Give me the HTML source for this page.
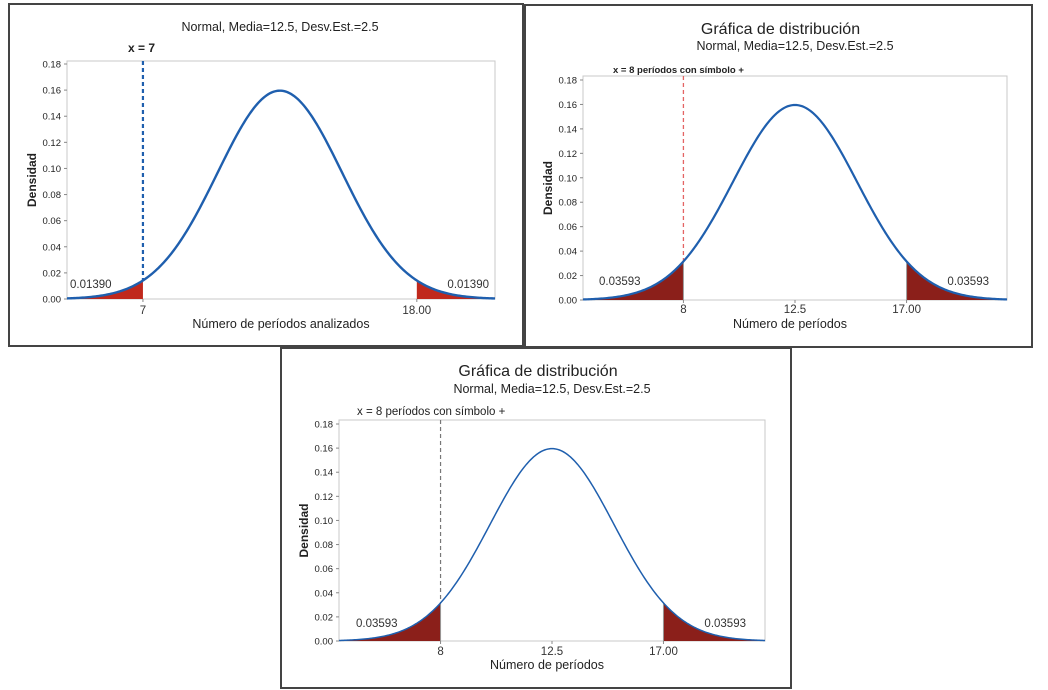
<!DOCTYPE html>
<html><head><meta charset="utf-8">
<style>
html,body{margin:0;padding:0;background:#fff;}
svg{display:block;font-family:"Liberation Sans","DejaVu Sans",sans-serif;}
</style></head>
<body>
<svg id="chart" width="1048" height="690" viewBox="0 0 1048 690" xmlns="http://www.w3.org/2000/svg"></svg>
<script>
// ---- data ----
const means = [12.5, 12.5, 12.5];
const stdDevs = [2.5, 2.5, 2.5];
const leftCuts = [7, 8, 8];
const rightCuts = [18, 17, 17];
const tailAreas = ["0.01390", "0.03593", "0.03593"];
const xTickValues = [[7, 18], [8, 12.5, 17], [8, 12.5, 17]];
const xTickLabels = [["7", "18.00"], ["8", "12.5", "17.00"], ["8", "12.5", "17.00"]];
const yTickValues = [0, 0.02, 0.04, 0.06, 0.08, 0.10, 0.12, 0.14, 0.16, 0.18];
const yTickLabels = ["0.00","0.02","0.04","0.06","0.08","0.10","0.12","0.14","0.16","0.18"];
const mainTitles = ["", "Gráfica de distribución", "Gráfica de distribución"];
const subTitles = ["Normal, Media=12.5, Desv.Est.=2.5","Normal, Media=12.5, Desv.Est.=2.5","Normal, Media=12.5, Desv.Est.=2.5"];
const refLabels = ["x = 7", "x = 8 períodos con símbolo +", "x = 8 períodos con símbolo +"];
const xTitles = ["Número de períodos analizados", "Número de períodos", "Número de períodos"];

// ---- layout (not data) ----
const panels = [
 {box:[9,4,514,342], l:67, r:495, t:61, b:299, y18:64, xmin:3.95, xmax:21.14,
  fill:"#c0281c", refColor:"#1f5fae", refW:2.2, refDash:"4,3", curveW:2.4,
  subY:31, subSize:12.5, refX:128, refY:52, refSize:12, refBold:true, labY:288, lx:70, rx:489, xtY:314, titleY:328},
 {box:[525,5,507,342], l:583, r:1007, t:76, b:300, y18:80, xmin:3.95, xmax:21.05,
  fill:"#8b1f1a", refColor:"#e46464", refW:1.3, refDash:"4,3", curveW:2.2,
  mainY:34, subY:50, subSize:12.5, refX:613, refY:73, refSize:9.5, refBold:true, labY:285, lx:599, rx:989, xtY:313, titleY:328},
 {box:[281,348,510,340], l:339, r:765, t:420, b:641, y18:424, xmin:3.9, xmax:21.1,
  fill:"#8b1f1a", refColor:"#777", refW:1.2, refDash:"4,3", curveW:1.5,
  mainY:376, subY:393, subSize:12.5, refX:357, refY:415, refSize:11.5, refBold:false, labY:627, lx:356, rx:746, xtY:655, titleY:669}
];

const svg = document.getElementById('chart');
const NS = "http://www.w3.org/2000/svg";
function mk(tag, attrs, parent){ const e=document.createElementNS(NS,tag); for(const k in attrs) e.setAttribute(k,attrs[k]); (parent||svg).appendChild(e); return e; }
function pdf(x,m,s){ return Math.exp(-0.5*((x-m)/s)**2)/(s*Math.sqrt(2*Math.PI)); }

panels.forEach((p,i)=>{
  const g = mk('g',{});
  
  
  const X = v => p.l + (v-p.xmin)/(p.xmax-p.xmin)*(p.r-p.l);
  const Y = v => p.b - v/0.18*(p.b-p.y18);
  const m=means[i], s=stdDevs[i];

  const frame = mk('rect',{x:p.box[0],y:p.box[1],width:p.box[2],height:p.box[3],fill:"#fff",stroke:"#444","stroke-width":2},g);
  
  

  const plot = mk('rect',{x:p.l,y:p.t,width:p.r-p.l,height:p.b-p.t,fill:"#fff",stroke:"#c8c8c8","stroke-width":1},g);
  
  

  if(mainTitles[i]){
    const mt = mk('text',{x:(p.box[0]+p.box[0]+p.box[2])/2+2,y:p.mainY,"text-anchor":"middle","font-size":16,fill:"#222"},g);
    mt.textContent = mainTitles[i];
    
    
  }
  const cx = i===0 ? 280 : (p.l+p.r)/2;
  const st = mk('text',{x:cx,y:p.subY,"text-anchor":"middle","font-size":p.subSize,fill:"#222"},g);
  st.textContent = subTitles[i];
  
  

  yTickValues.forEach((v,k)=>{
    const y=Y(v);
    const tk = mk('line',{x1:p.l-3,x2:p.l,y1:y,y2:y,stroke:"#888"},g);
    
    
    const t = mk('text',{x:p.l-6,y:y+3.5,"text-anchor":"end","font-size":9.5,fill:"#222"},g);
    t.textContent = yTickLabels[k];
    
    
  });
  const yt = mk('text',{x:0,y:0,"text-anchor":"middle","font-size":12,"font-weight":"bold",fill:"#222",transform:`translate(${p.l-31},${(p.t+p.b)/2}) rotate(-90)`},g);
  yt.textContent = "Densidad";
  
  

  const tail = (a,b)=>{
    let d=`M${X(a)},${Y(0)}`;
    for(let k=0;k<=80;k++){ const x=a+(b-a)*k/80; d+=` L${X(x).toFixed(2)},${Y(pdf(x,m,s)).toFixed(2)}`; }
    d+=` L${X(b)},${Y(0)} Z`; return d;
  };
  const lt = mk('path',{d:tail(p.xmin,leftCuts[i]),fill:p.fill},g);
  
  
  const rt = mk('path',{d:tail(rightCuts[i],p.xmax),fill:p.fill},g);
  
  
  if(i>0){
    [leftCuts[i],rightCuts[i]].forEach(c=>{
      const e=mk('line',{x1:X(c),x2:X(c),y1:Y(0),y2:Y(pdf(c,m,s)),stroke:"#999","stroke-width":1},g);
      
      
    });
  }

  const rl = mk('line',{x1:X(leftCuts[i]),x2:X(leftCuts[i]),y1:p.t,y2:Y(pdf(leftCuts[i],m,s)),stroke:p.refColor,"stroke-width":p.refW,"stroke-dasharray":p.refDash},g);
  
  
  const rlab = mk('text',{x:p.refX,y:p.refY,"font-size":p.refSize,"font-weight":p.refBold?"bold":"normal",fill:"#222"},g);
  rlab.textContent = refLabels[i];
  
  

  let d='';
  for(let k=0;k<=300;k++){ const x=p.xmin+(p.xmax-p.xmin)*k/300; d+=(k?' L':'M')+X(x).toFixed(2)+','+Y(pdf(x,m,s)).toFixed(2); }
  const cv = mk('path',{d:d,fill:"none",stroke:"#1f5fae","stroke-width":p.curveW},g);
  
  

  const la = mk('text',{x:p.lx,y:p.labY,"font-size":11.5,fill:"#333"},g);
  la.textContent = tailAreas[i];
  
  
  const ra = mk('text',{x:p.rx,y:p.labY,"text-anchor":"end","font-size":11.5,fill:"#333"},g);
  ra.textContent = tailAreas[i];
  
  

  xTickValues[i].forEach((v,k)=>{
    const x=X(v);
    const tk = mk('line',{x1:x,x2:x,y1:p.b,y2:p.b+3,stroke:"#888"},g);
    
    
    const t = mk('text',{x:x,y:p.xtY,"text-anchor":"middle","font-size":11.5,fill:"#333"},g);
    t.textContent = xTickLabels[i][k];
    
    
  });
  const xt = mk('text',{x:(p.l+p.r)/2-(i===0?0:5),y:p.titleY,"text-anchor":"middle","font-size":12.5,fill:"#222"},g);
  xt.textContent = xTitles[i];
  
  
});
</script>
</body></html>
